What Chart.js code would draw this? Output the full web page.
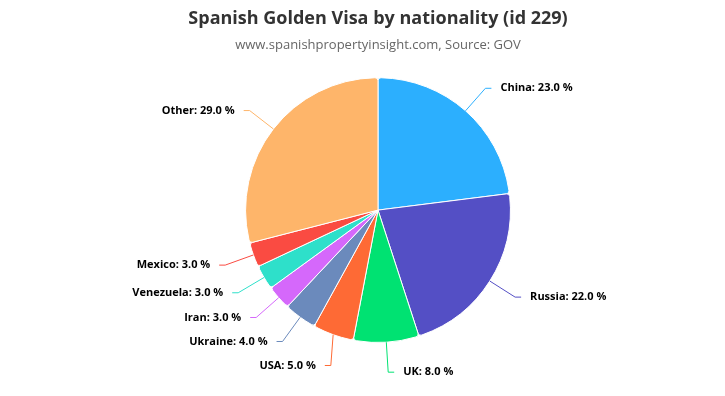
<!DOCTYPE html>
<html>
<head>
<meta charset="utf-8">
<script src="https://cdn.jsdelivr.net/npm/chart.js@4"></script>
<style>
html,body{margin:0;padding:0;background:#fff;overflow:hidden;}
#wrap{width:725px;height:396px;position:relative;}
</style>
</head>
<body>
<div id="wrap"><canvas id="c" width="725" height="396"></canvas></div>
<script>
const categories = ["China", "Russia", "UK", "USA", "Ukraine", "Iran", "Venezuela", "Mexico", "Other"];
const shares = [23, 22, 8, 5, 4, 3, 3, 3, 29];
const colors = ["#2CAFFE", "#544FC5", "#00E272", "#FE6A35", "#6B8ABC", "#D568FB", "#2EE0CA", "#FA4B42", "#FEB56A"];
const titleText = "Spanish Golden Visa by nationality (id 229)";
const subtitleText = "www.spanishpropertyinsight.com, Source: GOV";

const FONT = "'Open Sans', 'Noto Sans', sans-serif";

const pieLabels = {
  id: 'pieLabels',
  afterDatasetsDraw(chart) {
    const ctx = chart.ctx;
    const meta = chart.getDatasetMeta(0);
    const items = [];
    meta.data.forEach((arc, i) => {
      const p = arc.getProps(['x', 'y', 'startAngle', 'endAngle', 'outerRadius'], true);
      const mid = (p.startAngle + p.endAngle) / 2;
      const r = p.outerRadius;
      const R = r + 30;
      const cos = Math.cos(mid), sin = Math.sin(mid);
      items.push({
        i, cx: p.x, cy: p.y, r, R,
        ex: p.x + r * cos, ey: p.y + r * sin,
        y: p.y + R * sin,
        right: cos >= 0
      });
    });
    const gap = 24;
    [true, false].forEach(side => {
      const list = items.filter(o => o.right === side).sort((a, b) => a.y - b.y);
      for (let k = 1; k < list.length; k++) {
        if (list[k].y - list[k - 1].y < gap) list[k].y = list[k - 1].y + gap;
      }
    });
    ctx.save();
    ctx.font = "bold 11px " + FONT;
    ctx.textBaseline = 'middle';
    items.forEach(o => {
      const dy = o.y - o.cy;
      const dx = Math.abs(dy) < o.R ? Math.sqrt(o.R * o.R - dy * dy) : 0;
      const dir = o.right ? 1 : -1;
      const lx = o.cx + dir * dx;
      ctx.strokeStyle = colors[o.i];
      ctx.lineWidth = 1;
      ctx.beginPath();
      ctx.moveTo(o.ex, o.ey);
      ctx.lineTo(lx, o.y);
      ctx.lineTo(lx + dir * 6, o.y);
      ctx.stroke();
      const text = categories[o.i] + ": " + shares[o.i].toFixed(1) + " %";
      ctx.textAlign = o.right ? 'left' : 'right';
      ctx.lineWidth = 2;
      ctx.strokeStyle = '#fff';
      ctx.lineJoin = 'round';
      ctx.strokeText(text, lx + dir * 15, o.y);
      ctx.fillStyle = '#000';
      ctx.fillText(text, lx + dir * 15, o.y);
    });
    ctx.restore();
  }
};

new Chart(document.getElementById('c'), {
  type: 'pie',
  data: {
    labels: categories,
    datasets: [{
      data: shares,
      backgroundColor: colors,
      borderColor: '#ffffff',
      borderWidth: 1,
      borderRadius: 3,
      hoverOffset: 0,
      offset: 0
    }]
  },
  options: {
    responsive: false,
    animation: false,
    events: [],
    layout: { padding: { left: 31, right: 0, top: 0, bottom: 53 } },
    plugins: {
      legend: { display: false },
      tooltip: { enabled: false },
      title: {
        display: true,
        text: titleText,
        color: '#333333',
        font: { family: FONT, size: 18, weight: 'bold' },
        padding: { top: 8, bottom: 6 }
      },
      subtitle: {
        display: true,
        text: subtitleText,
        color: '#666666',
        font: { family: FONT, size: 13, weight: 'normal' },
        padding: { top: 2, bottom: 24 }
      }
    }
  },
  plugins: [pieLabels]
});
</script>
</body>
</html>
